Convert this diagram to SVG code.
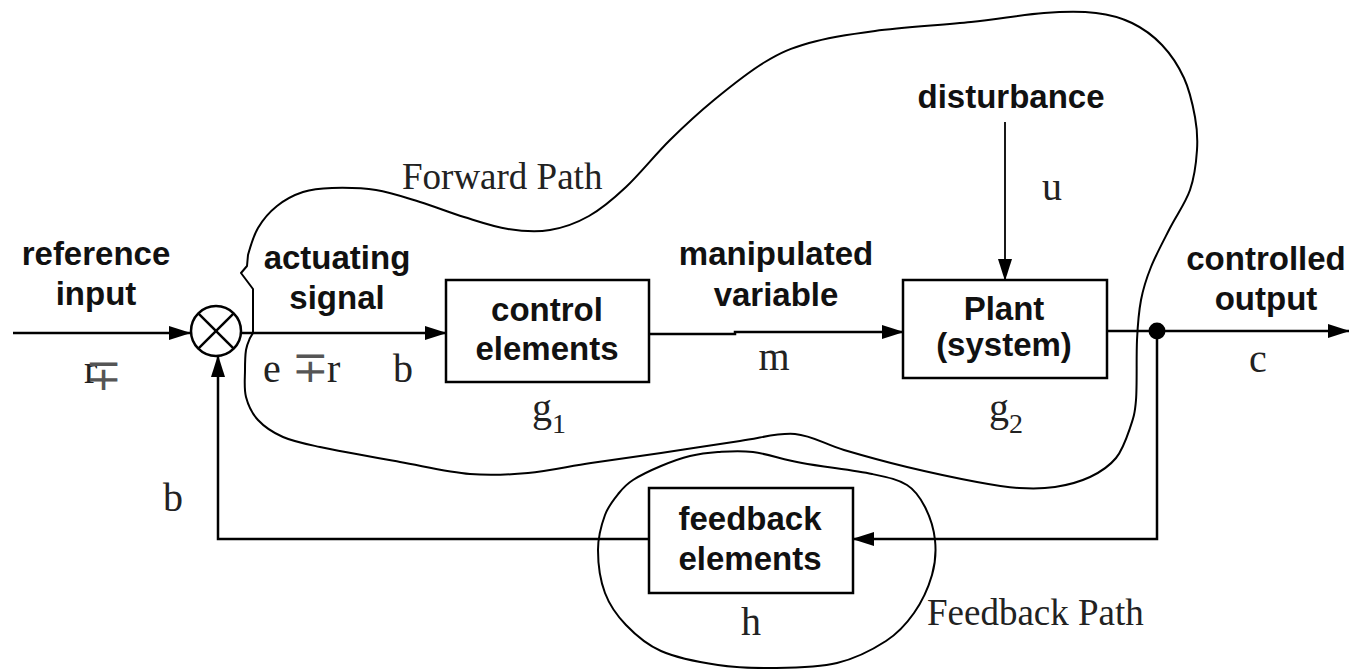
<svg xmlns="http://www.w3.org/2000/svg" width="1349" height="669" viewBox="0 0 1349 669">
  <style>
    .bg { fill: #ffffff; }
    .box { fill: #ffffff; stroke: #000000; stroke-width: 2.5; }
    .wire { fill: none; stroke: #000000; stroke-width: 2.5; }
    .thin { fill: none; stroke: #000000; stroke-width: 1.8; }
    .path-outline { fill: none; stroke: #000000; stroke-width: 2; stroke-linejoin: round; }
    .lbl { font-family: "Liberation Sans", Arial, sans-serif; font-weight: bold; font-size: 33px; fill: #111111; text-anchor: middle; }
    .sym { font-family: "Liberation Serif", "DejaVu Serif", serif; font-size: 40px; fill: #222222; }
    .mid { text-anchor: middle; }
    .cap { font-family: "Liberation Serif", "DejaVu Serif", serif; font-size: 37px; fill: #222222; }
    .sub { font-size: 28px; }
    .op { font-size: 44px; fill: #555555; }
  </style>
  <defs>
    <marker id="arrow" markerUnits="userSpaceOnUse" markerWidth="22" markerHeight="14" refX="21" refY="7" orient="auto">
      <path d="M0,0 L22,7 L0,14 Z" fill="#000000"/>
    </marker>
  </defs>

  <rect class="bg" x="0" y="0" width="1349" height="669"/>

  <!-- outline of the forward path -->
  <path id="forward-path" class="path-outline" d="M253,333 L253,289 L247,281 L241,273 L247,266 L248,255
    C249.8,248.7 253.2,236.2 258,228
    S269.5,212 277,206 S293.8,195 303,192 S319.8,188.3 332,188 S361.3,187.7 376,190
    S405.3,197.5 420,202 S449.3,212.5 464,217 S493.7,226.8 508,229 S536.5,232.2 550,230
    S576.3,223.2 589,216 S612.5,199.7 626,187 S655.3,154.5 670,140 S698.2,113 714,100
    S749.2,71.5 765,62 S790.7,48.2 809,43 S848,34.5 875,31 S942.8,25 971,22
    S1023.2,14.5 1044,13 S1081.3,11.3 1096,13 S1121,17.7 1132,23 S1153.3,35.8 1162,45
    S1178.5,66 1184,78 S1192.8,105 1195,117 S1197.8,137.8 1197,150 S1194.5,177 1190,190
    S1176.5,215.2 1170,228 S1155.8,255 1151,267 S1143.3,287.8 1141,300 S1137.8,323.3 1137,340
    S1137.2,385.3 1136,400 S1133.3,418.3 1130,428 S1122.7,449.8 1116,458 S1100.2,472.2 1090,477
    S1066.8,485.2 1055,487 S1032,488.8 1019,488 S995.7,485.5 977,482 S929.2,472.3 907,467
    S862.7,455.5 844,450 S812.3,435.5 795,434 S762.3,437.8 740,441 S685.8,449.3 661,453
    S613.2,459.7 591,463 S548.2,471.2 528,473 S491.3,475.8 470,474 S425,466.5 400,462
    S339.5,451.2 320,447 S293.3,441.5 283,437 S264.2,426.7 258,420 S248.2,405.3 246,397
    S245,377.8 245,370 S245.2,355.3 246,350 S248.8,340.8 250,338 Z"/>

  <!-- outline of the feedback path -->
  <path id="feedback-path" class="path-outline" d="M718,452 C728.5,451.3 739,450.2 753,452
    S782.2,459.3 802,463 S854.5,470.3 872,474 S898.2,479.5 907,485 S920.3,497.8 925,507
    S933.8,528.7 935,540 S935.5,562.8 932,575 S921.7,602 914,613 S898.8,632.7 886,641
    S855.7,658.5 837,663 S793.8,667.7 774,668 S736.8,667.8 718,665 S676.3,657.7 661,651
    S635.3,634.7 626,625 S609.7,605.5 605,593 S598,563 598,550 S601.5,524.5 605,515
    S614.3,498.8 619,493 S626,484.5 633,480 S651.5,470 661,466 S680.5,458.3 690,456
    S707.5,452.7 718,452 Z"/>

  <!-- signal connectors -->
  <g id="connectors">
    <line class="wire" x1="13" y1="333" x2="190" y2="333" marker-end="url(#arrow)"/>
    <line class="wire" x1="241" y1="333" x2="446" y2="333" marker-end="url(#arrow)"/>
    <polyline class="wire" points="649,334 735,334 735,332 903,332" marker-end="url(#arrow)"/>
    <line class="thin" x1="1005" y1="122" x2="1005" y2="280" marker-end="url(#arrow)"/>
    <line class="wire" x1="1107" y1="331" x2="1349" y2="331" marker-end="url(#arrow)"/>
    <polyline class="wire" points="1157,331 1157,539 853,539" marker-end="url(#arrow)"/>
    <polyline class="wire" points="649,539 218,539 218,356" marker-end="url(#arrow)"/>
    <circle cx="1157" cy="331" r="8.5" fill="#000000"/>
  </g>

  <!-- summing junction -->
  <g id="summing-junction">
    <circle class="box" cx="216" cy="331" r="25" fill="none"/>
    <line class="wire" x1="198.3" y1="313.3" x2="233.7" y2="348.7"/>
    <line class="wire" x1="233.7" y1="313.3" x2="198.3" y2="348.7"/>
  </g>

  <g id="control-elements">
    <rect class="box" x="446" y="280" width="203" height="102"/>
    <text class="lbl" x="547" y="321">control</text>
    <text class="lbl" x="547" y="360">elements</text>
  </g>

  <g id="plant">
    <rect class="box" x="903" y="280" width="204" height="98"/>
    <text class="lbl" x="1004" y="320">Plant</text>
    <text class="lbl" x="1004" y="356">(system)</text>
  </g>

  <g id="feedback-elements">
    <rect class="box" x="649" y="488" width="204" height="105"/>
    <text class="lbl" x="750" y="530">feedback</text>
    <text class="lbl" x="750" y="570">elements</text>
  </g>

  <!-- signal names -->
  <g id="signal-labels">
    <text class="lbl" x="96" y="265">reference</text>
    <text class="lbl" x="96" y="305">input</text>
    <text class="lbl" x="337" y="269">actuating</text>
    <text class="lbl" x="337" y="309">signal</text>
    <text class="lbl" x="776" y="265">manipulated</text>
    <text class="lbl" x="776" y="306">variable</text>
    <text class="lbl" x="1011" y="108">disturbance</text>
    <text class="lbl" x="1266" y="270">controlled</text>
    <text class="lbl" x="1266" y="310">output</text>
  </g>

  <!-- symbols -->
  <g id="symbols">
    <text class="sym" x="84" y="383">r<tspan class="op" dx="-12" dy="7">∓</tspan></text>
    <text class="sym" y="382"><tspan x="263">e</tspan><tspan class="op" x="292" y="382">∓</tspan><tspan x="327" y="382">r</tspan></text>
    <text class="sym" x="393" y="382">b</text>
    <text class="sym mid" x="774" y="370">m</text>
    <text class="sym mid" x="1052" y="200">u</text>
    <text class="sym mid" x="1258" y="372">c</text>
    <text class="sym mid" x="173" y="511">b</text>
    <text class="sym mid" x="751" y="635">h</text>
    <text class="sym" x="532" y="421">g<tspan class="sub" dy="12">1</tspan></text>
    <text class="sym" x="989" y="421">g<tspan class="sub" dy="12">2</tspan></text>
    <text class="cap" x="402" y="189">Forward Path</text>
    <text class="cap" x="927" y="625">Feedback Path</text>
  </g>
</svg>
